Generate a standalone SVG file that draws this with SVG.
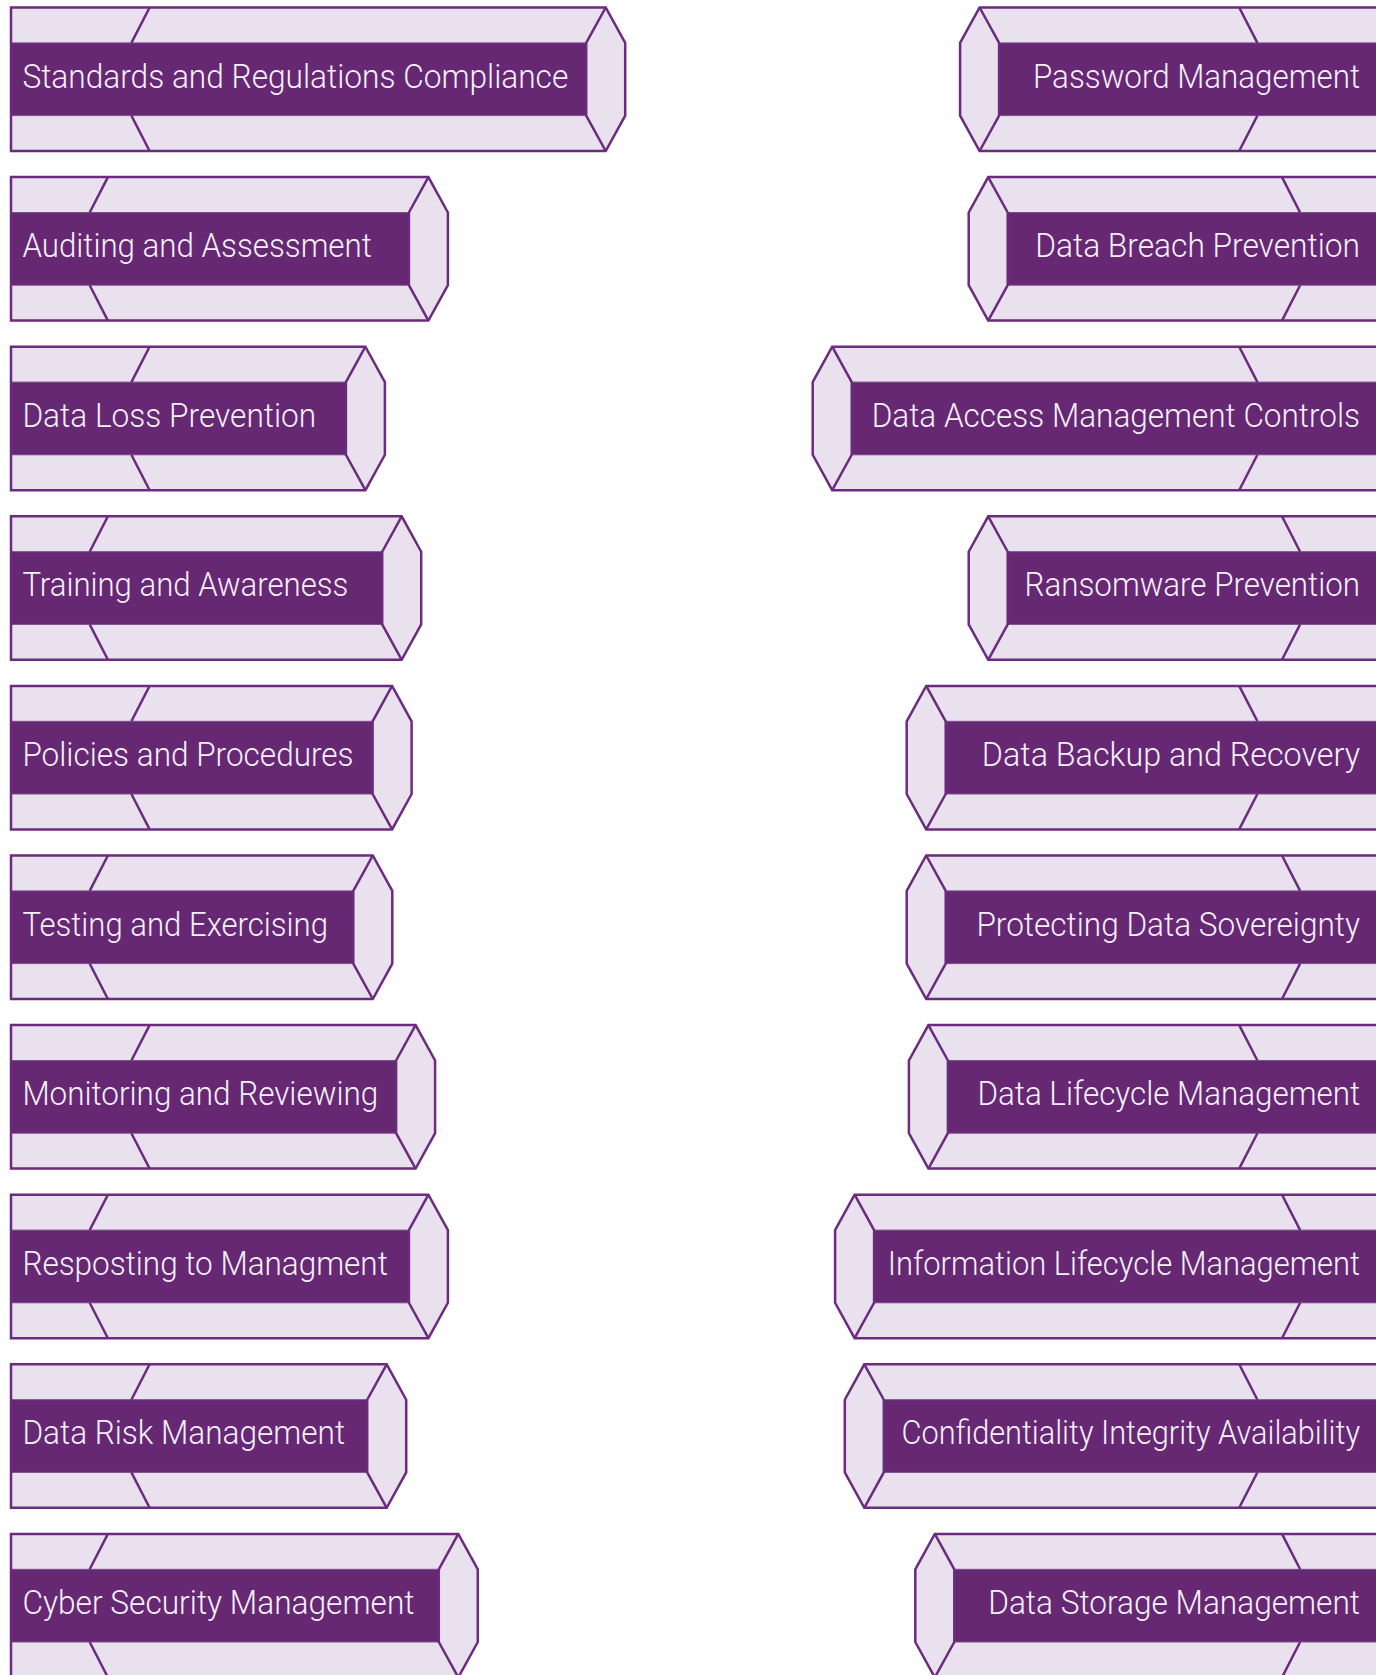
<svg xmlns="http://www.w3.org/2000/svg" width="1376" height="1675" viewBox="0 0 1376 1675">
  <style>
    .face { fill: #E9E1ED; stroke: none; }
    .band { fill: #662873; stroke: #7E4E8E; stroke-width: 1; }
    .edge { fill: none; stroke: #6B2C7E; stroke-width: 2.5; stroke-linejoin: miter; }
    .lbl { font-family: Roboto, "Liberation Sans", sans-serif; font-weight: 300; font-size: 32.5px; fill: #F6F0F8; }
    .r { text-anchor: end; }
  </style>
  <rect width="1376" height="1675" fill="#FFFFFF"/>

  <!-- left column: prisms cut flat on the left, hexagonal end on the right -->
  <g id="node-standards-compliance" transform="translate(0,7.5)">
    <path class="face" d="M11,0 H605.7 L625.2,35.4 V108.1 L605.7,143.5 H11 Z"/>
    <rect class="band" x="11" y="35.4" width="575.2" height="72.7"/>
    <path class="edge" d="M605.7,0 L586.2,35.4 V108.1 L605.7,143.5 M149.6,0 L131.4,35.4 M131.4,108.1 L149.6,143.5"/>
    <path class="edge" d="M11,0 H605.7 L625.2,35.4 V108.1 L605.7,143.5 H11 Z"/>
    <text class="lbl" x="22.4" y="80" textLength="545.9" lengthAdjust="spacingAndGlyphs">Standards and Regulations Compliance</text>
  </g>
  <g id="node-auditing-assessment" transform="translate(0,177.1)">
    <path class="face" d="M11,0 H428.4 L447.9,35.4 V108.1 L428.4,143.5 H11 Z"/>
    <rect class="band" x="11" y="35.4" width="397.9" height="72.7"/>
    <path class="edge" d="M428.4,0 L408.9,35.4 V108.1 L428.4,143.5 M107.9,0 L89.7,35.4 M89.7,108.1 L107.9,143.5"/>
    <path class="edge" d="M11,0 H428.4 L447.9,35.4 V108.1 L428.4,143.5 H11 Z"/>
    <text class="lbl" x="22.4" y="80" textLength="349.4" lengthAdjust="spacingAndGlyphs">Auditing and Assessment</text>
  </g>
  <g id="node-data-loss-prevention" transform="translate(0,346.7)">
    <path class="face" d="M11,0 H365.4 L384.9,35.4 V108.1 L365.4,143.5 H11 Z"/>
    <rect class="band" x="11" y="35.4" width="334.9" height="72.7"/>
    <path class="edge" d="M365.4,0 L345.9,35.4 V108.1 L365.4,143.5 M149.6,0 L131.4,35.4 M131.4,108.1 L149.6,143.5"/>
    <path class="edge" d="M11,0 H365.4 L384.9,35.4 V108.1 L365.4,143.5 H11 Z"/>
    <text class="lbl" x="22.4" y="80" textLength="293.8" lengthAdjust="spacingAndGlyphs">Data Loss Prevention</text>
  </g>
  <g id="node-training-awareness" transform="translate(0,516.3)">
    <path class="face" d="M11,0 H401.7 L421.2,35.4 V108.1 L401.7,143.5 H11 Z"/>
    <rect class="band" x="11" y="35.4" width="371.2" height="72.7"/>
    <path class="edge" d="M401.7,0 L382.2,35.4 V108.1 L401.7,143.5 M107.9,0 L89.7,35.4 M89.7,108.1 L107.9,143.5"/>
    <path class="edge" d="M11,0 H401.7 L421.2,35.4 V108.1 L401.7,143.5 H11 Z"/>
    <text class="lbl" x="22.4" y="80" textLength="325.9" lengthAdjust="spacingAndGlyphs">Training and Awareness</text>
  </g>
  <g id="node-policies-procedures" transform="translate(0,685.9)">
    <path class="face" d="M11,0 H392.1 L411.6,35.4 V108.1 L392.1,143.5 H11 Z"/>
    <rect class="band" x="11" y="35.4" width="361.6" height="72.7"/>
    <path class="edge" d="M392.1,0 L372.6,35.4 V108.1 L392.1,143.5 M149.6,0 L131.4,35.4 M131.4,108.1 L149.6,143.5"/>
    <path class="edge" d="M11,0 H392.1 L411.6,35.4 V108.1 L392.1,143.5 H11 Z"/>
    <text class="lbl" x="22.4" y="80" textLength="331.2" lengthAdjust="spacingAndGlyphs">Policies and Procedures</text>
  </g>
  <g id="node-testing-exercising" transform="translate(0,855.5)">
    <path class="face" d="M11,0 H372.8 L392.3,35.4 V108.1 L372.8,143.5 H11 Z"/>
    <rect class="band" x="11" y="35.4" width="342.3" height="72.7"/>
    <path class="edge" d="M372.8,0 L353.3,35.4 V108.1 L372.8,143.5 M107.9,0 L89.7,35.4 M89.7,108.1 L107.9,143.5"/>
    <path class="edge" d="M11,0 H372.8 L392.3,35.4 V108.1 L372.8,143.5 H11 Z"/>
    <text class="lbl" x="22.4" y="80" textLength="305.6" lengthAdjust="spacingAndGlyphs">Testing and Exercising</text>
  </g>
  <g id="node-monitoring-reviewing" transform="translate(0,1025.1)">
    <path class="face" d="M11,0 H415.6 L435.1,35.4 V108.1 L415.6,143.5 H11 Z"/>
    <rect class="band" x="11" y="35.4" width="385.1" height="72.7"/>
    <path class="edge" d="M415.6,0 L396.1,35.4 V108.1 L415.6,143.5 M149.6,0 L131.4,35.4 M131.4,108.1 L149.6,143.5"/>
    <path class="edge" d="M11,0 H415.6 L435.1,35.4 V108.1 L415.6,143.5 H11 Z"/>
    <text class="lbl" x="22.4" y="80" textLength="355.8" lengthAdjust="spacingAndGlyphs">Monitoring and Reviewing</text>
  </g>
  <g id="node-responding-management" transform="translate(0,1194.7)">
    <path class="face" d="M11,0 H428.4 L447.9,35.4 V108.1 L428.4,143.5 H11 Z"/>
    <rect class="band" x="11" y="35.4" width="397.9" height="72.7"/>
    <path class="edge" d="M428.4,0 L408.9,35.4 V108.1 L428.4,143.5 M107.9,0 L89.7,35.4 M89.7,108.1 L107.9,143.5"/>
    <path class="edge" d="M11,0 H428.4 L447.9,35.4 V108.1 L428.4,143.5 H11 Z"/>
    <text class="lbl" x="22.4" y="80" textLength="365.4" lengthAdjust="spacingAndGlyphs">Resposting to Managment</text>
  </g>
  <g id="node-data-risk-management" transform="translate(0,1364.3)">
    <path class="face" d="M11,0 H386.7 L406.2,35.4 V108.1 L386.7,143.5 H11 Z"/>
    <rect class="band" x="11" y="35.4" width="356.2" height="72.7"/>
    <path class="edge" d="M386.7,0 L367.2,35.4 V108.1 L386.7,143.5 M149.6,0 L131.4,35.4 M131.4,108.1 L149.6,143.5"/>
    <path class="edge" d="M11,0 H386.7 L406.2,35.4 V108.1 L386.7,143.5 H11 Z"/>
    <text class="lbl" x="22.4" y="80" textLength="322.7" lengthAdjust="spacingAndGlyphs">Data Risk Management</text>
  </g>
  <g id="node-cyber-security-management" transform="translate(0,1533.9)">
    <path class="face" d="M11,0 H458.3 L477.8,35.4 V108.1 L458.3,143.5 H11 Z"/>
    <rect class="band" x="11" y="35.4" width="427.8" height="72.7"/>
    <path class="edge" d="M458.3,0 L438.8,35.4 V108.1 L458.3,143.5 M107.9,0 L89.7,35.4 M89.7,108.1 L107.9,143.5"/>
    <path class="edge" d="M11,0 H458.3 L477.8,35.4 V108.1 L458.3,143.5 H11 Z"/>
    <text class="lbl" x="22.4" y="80" textLength="392.1" lengthAdjust="spacingAndGlyphs">Cyber Security Management</text>
  </g>

  <!-- right column: hexagonal end on the left, running off the right edge -->
  <g id="node-password-management" transform="translate(0,7.5)">
    <path class="face" d="M1392,0 H979.6 L960.1,35.4 V108.1 L979.6,143.5 H1392 Z"/>
    <rect class="band" x="999.1" y="35.4" width="392.9" height="72.7"/>
    <path class="edge" d="M979.6,0 L999.1,35.4 V108.1 L979.6,143.5 M1239.2,0 L1257.4,35.4 M1257.4,108.1 L1239.2,143.5"/>
    <path class="edge" d="M1392,0 H979.6 L960.1,35.4 V108.1 L979.6,143.5 H1392 Z"/>
    <text class="lbl r" x="1360" y="80" textLength="327" lengthAdjust="spacingAndGlyphs">Password Management</text>
  </g>
  <g id="node-data-breach-prevention" transform="translate(0,177.1)">
    <path class="face" d="M1392,0 H988.2 L968.7,35.4 V108.1 L988.2,143.5 H1392 Z"/>
    <rect class="band" x="1007.7" y="35.4" width="384.3" height="72.7"/>
    <path class="edge" d="M988.2,0 L1007.7,35.4 V108.1 L988.2,143.5 M1282,0 L1300.1,35.4 M1300.1,108.1 L1282,143.5"/>
    <path class="edge" d="M1392,0 H988.2 L968.7,35.4 V108.1 L988.2,143.5 H1392 Z"/>
    <text class="lbl r" x="1360" y="80" textLength="324.8" lengthAdjust="spacingAndGlyphs">Data Breach Prevention</text>
  </g>
  <g id="node-data-access-controls" transform="translate(0,346.7)">
    <path class="face" d="M1392,0 H832.2 L812.7,35.4 V108.1 L832.2,143.5 H1392 Z"/>
    <rect class="band" x="851.7" y="35.4" width="540.3" height="72.7"/>
    <path class="edge" d="M832.2,0 L851.7,35.4 V108.1 L832.2,143.5 M1239.2,0 L1257.4,35.4 M1257.4,108.1 L1239.2,143.5"/>
    <path class="edge" d="M1392,0 H832.2 L812.7,35.4 V108.1 L832.2,143.5 H1392 Z"/>
    <text class="lbl r" x="1360" y="80" textLength="488.3" lengthAdjust="spacingAndGlyphs">Data Access Management Controls</text>
  </g>
  <g id="node-ransomware-prevention" transform="translate(0,516.3)">
    <path class="face" d="M1392,0 H988.2 L968.7,35.4 V108.1 L988.2,143.5 H1392 Z"/>
    <rect class="band" x="1007.7" y="35.4" width="384.3" height="72.7"/>
    <path class="edge" d="M988.2,0 L1007.7,35.4 V108.1 L988.2,143.5 M1282,0 L1300.1,35.4 M1300.1,108.1 L1282,143.5"/>
    <path class="edge" d="M1392,0 H988.2 L968.7,35.4 V108.1 L988.2,143.5 H1392 Z"/>
    <text class="lbl r" x="1360" y="80" textLength="335.5" lengthAdjust="spacingAndGlyphs">Ransomware Prevention</text>
  </g>
  <g id="node-backup-recovery" transform="translate(0,685.9)">
    <path class="face" d="M1392,0 H926.2 L906.7,35.4 V108.1 L926.2,143.5 H1392 Z"/>
    <rect class="band" x="945.7" y="35.4" width="446.3" height="72.7"/>
    <path class="edge" d="M926.2,0 L945.7,35.4 V108.1 L926.2,143.5 M1239.2,0 L1257.4,35.4 M1257.4,108.1 L1239.2,143.5"/>
    <path class="edge" d="M1392,0 H926.2 L906.7,35.4 V108.1 L926.2,143.5 H1392 Z"/>
    <text class="lbl r" x="1360" y="80" textLength="378.2" lengthAdjust="spacingAndGlyphs">Data Backup and Recovery</text>
  </g>
  <g id="node-data-sovereignty" transform="translate(0,855.5)">
    <path class="face" d="M1392,0 H926.2 L906.7,35.4 V108.1 L926.2,143.5 H1392 Z"/>
    <rect class="band" x="945.7" y="35.4" width="446.3" height="72.7"/>
    <path class="edge" d="M926.2,0 L945.7,35.4 V108.1 L926.2,143.5 M1282,0 L1300.1,35.4 M1300.1,108.1 L1282,143.5"/>
    <path class="edge" d="M1392,0 H926.2 L906.7,35.4 V108.1 L926.2,143.5 H1392 Z"/>
    <text class="lbl r" x="1360" y="80" textLength="383.6" lengthAdjust="spacingAndGlyphs">Protecting Data Sovereignty</text>
  </g>
  <g id="node-data-lifecycle" transform="translate(0,1025.1)">
    <path class="face" d="M1392,0 H928.4 L908.9,35.4 V108.1 L928.4,143.5 H1392 Z"/>
    <rect class="band" x="947.9" y="35.4" width="444.1" height="72.7"/>
    <path class="edge" d="M928.4,0 L947.9,35.4 V108.1 L928.4,143.5 M1239.2,0 L1257.4,35.4 M1257.4,108.1 L1239.2,143.5"/>
    <path class="edge" d="M1392,0 H928.4 L908.9,35.4 V108.1 L928.4,143.5 H1392 Z"/>
    <text class="lbl r" x="1360" y="80" textLength="382.5" lengthAdjust="spacingAndGlyphs">Data Lifecycle Management</text>
  </g>
  <g id="node-information-lifecycle" transform="translate(0,1194.7)">
    <path class="face" d="M1392,0 H854.6 L835.1,35.4 V108.1 L854.6,143.5 H1392 Z"/>
    <rect class="band" x="874.1" y="35.4" width="517.9" height="72.7"/>
    <path class="edge" d="M854.6,0 L874.1,35.4 V108.1 L854.6,143.5 M1282,0 L1300.1,35.4 M1300.1,108.1 L1282,143.5"/>
    <path class="edge" d="M1392,0 H854.6 L835.1,35.4 V108.1 L854.6,143.5 H1392 Z"/>
    <text class="lbl r" x="1360" y="80" textLength="472.2" lengthAdjust="spacingAndGlyphs">Information Lifecycle Management</text>
  </g>
  <g id="node-cia" transform="translate(0,1364.3)">
    <path class="face" d="M1392,0 H864.3 L844.8,35.4 V108.1 L864.3,143.5 H1392 Z"/>
    <rect class="band" x="883.8" y="35.4" width="508.2" height="72.7"/>
    <path class="edge" d="M864.3,0 L883.8,35.4 V108.1 L864.3,143.5 M1239.2,0 L1257.4,35.4 M1257.4,108.1 L1239.2,143.5"/>
    <path class="edge" d="M1392,0 H864.3 L844.8,35.4 V108.1 L864.3,143.5 H1392 Z"/>
    <text class="lbl r" x="1360" y="80" textLength="458.4" lengthAdjust="spacingAndGlyphs">Confidentiality Integrity Availability</text>
  </g>
  <g id="node-data-storage" transform="translate(0,1533.9)">
    <path class="face" d="M1392,0 H934.8 L915.3,35.4 V108.1 L934.8,143.5 H1392 Z"/>
    <rect class="band" x="954.3" y="35.4" width="437.7" height="72.7"/>
    <path class="edge" d="M934.8,0 L954.3,35.4 V108.1 L934.8,143.5 M1282,0 L1300.1,35.4 M1300.1,108.1 L1282,143.5"/>
    <path class="edge" d="M1392,0 H934.8 L915.3,35.4 V108.1 L934.8,143.5 H1392 Z"/>
    <text class="lbl r" x="1360" y="80" textLength="371.8" lengthAdjust="spacingAndGlyphs">Data Storage Management</text>
  </g>

  <!-- no connectors between the items -->
  <g id="connectors"/>
</svg>
